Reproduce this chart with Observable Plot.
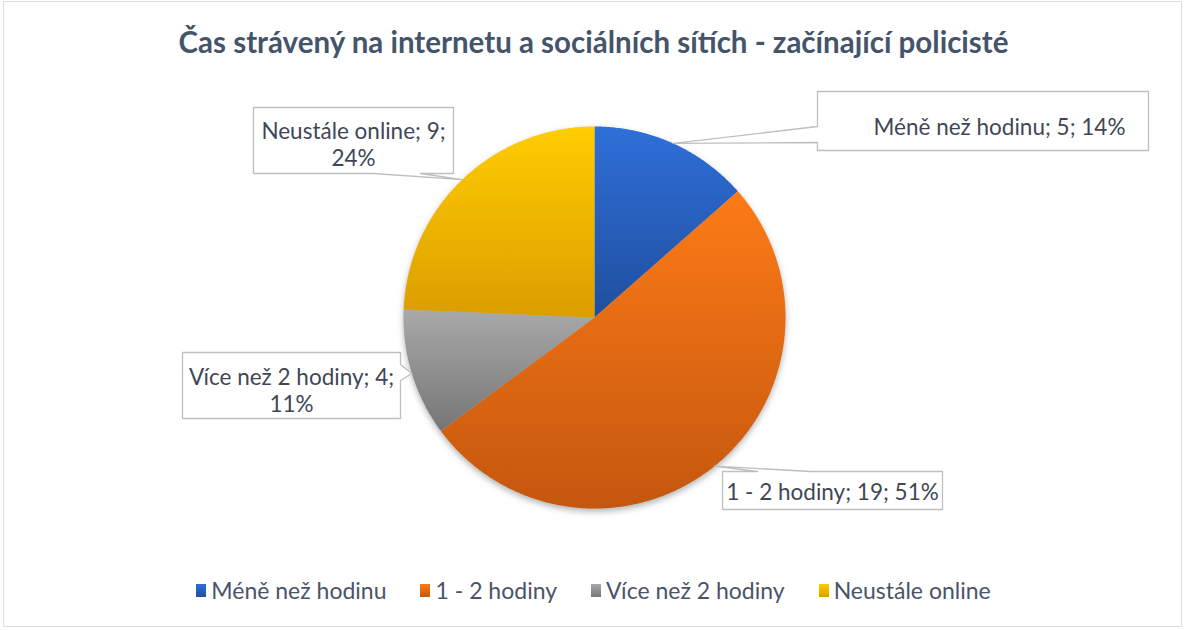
<!DOCTYPE html>
<html><head><meta charset="utf-8">
<script src="https://cdn.jsdelivr.net/npm/d3@7"></script>
<script src="https://cdn.jsdelivr.net/npm/@observablehq/plot@0.6"></script>
<style>
body{margin:0;background:#fff;font-family:Lato,"Open Sans",sans-serif;}
#chart{position:relative;width:1187px;height:630px;overflow:hidden;background:#fff;}
#frame{position:absolute;left:3px;top:1px;width:1179px;height:626px;border:1px solid #dadee3;box-sizing:border-box;}
#title{position:absolute;left:0;top:24px;width:1187px;text-align:center;font-weight:bold;font-size:29.5px;color:#44546A;line-height:normal;white-space:nowrap;}
#plot{position:absolute;left:0;top:80px;}
#legend{position:absolute;left:0;top:576px;width:1187px;display:flex;justify-content:center;gap:0;font-size:23px;color:#4a5468;line-height:28px;}
.li{display:flex;align-items:center;margin:0 17px;}
.sw{width:10px;height:13px;margin-right:5px;}
</style></head><body>
<div id="chart">
  <div id="frame"></div>
  <div id="title"></div>
  <div id="plot"></div>
  <div id="legend"></div>
</div>
<script>
// ---- data ----
const titleText = "Čas strávený na internetu a sociálních sítích - začínající policisté";
const categories = ["Méně než hodinu", "1 - 2 hodiny", "Více než 2 hodiny", "Neustále online"];
const counts = [5, 19, 4, 9];
const percentLabels = ["14%", "51%", "11%", "24%"];
const colorTop = ["#2f6fd8", "#fd7b17", "#a9a9a9", "#ffcd00"];
const colorBottom = ["#1f4f9e", "#c4570e", "#767676", "#db9d00"];

// ---- layout (page pixels) ----
const W = 1187, H = 480, svgTop = 80;
const cx = 594, cy = 317, R = 191;
const fontSize = 22.5, lineGap = 26.5;
// box: [left, top, right, bottom]; wedge on an edge between a and b; text center; line break after 2nd ';'
const calloutLayout = [
  {box: [817, 91, 1148, 150], edge: "left", a: 126, b: 142, tx: 999, ty: 126, wrap: false},
  {box: [722, 471, 942, 509], edge: "top", a: 757, b: 810, tx: 832, ty: 491, wrap: false},
  {box: [182, 352, 400, 418], edge: "right", a: 364, b: 380, tx: 291, ty: 389.5, wrap: true},
  {box: [253, 107, 453, 173], edge: "bottom", a: 373, b: 420, tx: 353, ty: 143.5, wrap: true}
];

const toX = px => px - cx;
const toY = py => cy - py;

document.getElementById("title").textContent = titleText;

// pie geometry
const arcs = d3.pie().sort(null).startAngle(0).endAngle(2 * Math.PI)(counts);
const slicePts = [];
arcs.forEach((a, i) => {
  const grad = `url(#g${i})`;
  slicePts.push({cat: categories[i], grad, x: 0, y: 0});
  const n = Math.max(2, Math.ceil((a.endAngle - a.startAngle) / (Math.PI / 360)));
  for (let k = 0; k <= n; k++) {
    const t = a.startAngle + (a.endAngle - a.startAngle) * k / n;
    slicePts.push({cat: categories[i], grad, x: R * Math.sin(t), y: R * Math.cos(t)});
  }
  slicePts.push({cat: categories[i], grad, x: 0, y: 0});
});

// callouts
const calloutPts = [];
const labels = [];
arcs.forEach((a, i) => {
  const L = calloutLayout[i];
  const mid = (a.startAngle + a.endAngle) / 2;
  const tip = [cx + R * Math.sin(mid), cy - R * Math.cos(mid)];
  const [x0, y0, x1, y1] = L.box;
  let pts = [];
  pts.push([x0, y0]);
  if (L.edge === "top") pts.push([L.a, y0], tip, [L.b, y0]);
  pts.push([x1, y0]);
  if (L.edge === "right") pts.push([x1, L.a], tip, [x1, L.b]);
  pts.push([x1, y1]);
  if (L.edge === "bottom") pts.push([L.b, y1], tip, [L.a, y1]);
  pts.push([x0, y1]);
  if (L.edge === "left") pts.push([x0, L.b], tip, [x0, L.a]);
  pts.push([x0, y0]);
  pts.forEach(p => calloutPts.push({id: i, x: toX(p[0]), y: toY(p[1])}));
  const sep = L.wrap ? "\n" : " ";
  labels.push({
    x: toX(L.tx), y: toY(L.ty),
    text: `${categories[i]}; ${counts[i]};${sep}${percentLabels[i]}`
  });
});

const chart = Plot.plot({
  width: W, height: H, margin: 0,
  x: {domain: [-cx, W - cx], axis: null},
  y: {domain: [cy - (svgTop + H), cy - svgTop], axis: null},
  color: {type: "identity"},
  style: {background: "transparent", fontFamily: "Lato, 'Open Sans', sans-serif"},
  marks: [
    Plot.line(slicePts, {x: "x", y: "y", z: "cat", fill: "grad", stroke: "none", curve: "linear"}),
    Plot.line(calloutPts, {x: "x", y: "y", z: "id", fill: "white", stroke: "#bfbfbf", strokeWidth: 1.3, curve: "linear"}),
    Plot.text(labels, {x: "x", y: "y", text: "text", fontSize, lineHeight: lineGap / fontSize, fill: "#3f4756", textAnchor: "middle"})
  ]
});

// gradients
const svg = d3.select(chart);
const defs = svg.insert("defs", ":first-child");
colorTop.forEach((c, i) => {
  const g = defs.append("linearGradient").attr("id", `g${i}`)
    .attr("x1", 0).attr("y1", 0).attr("x2", 0).attr("y2", 1);
  g.append("stop").attr("offset", "0%").attr("stop-color", c);
  g.append("stop").attr("offset", "100%").attr("stop-color", colorBottom[i]);
});
const lineGroups = chart.querySelectorAll('g[aria-label="line"]');
if (lineGroups[0]) lineGroups[0].style.filter = "drop-shadow(0px 3px 3px rgba(0,0,0,0.30))";
document.getElementById("plot").appendChild(chart);

// legend
const legend = d3.select("#legend");
categories.forEach((c, i) => {
  const it = legend.append("div").attr("class", "li");
  it.append("div").attr("class", "sw")
    .style("background", `linear-gradient(${colorTop[i]}, ${colorBottom[i]})`);
  it.append("span").text(c);
});
</script>
</body></html>
